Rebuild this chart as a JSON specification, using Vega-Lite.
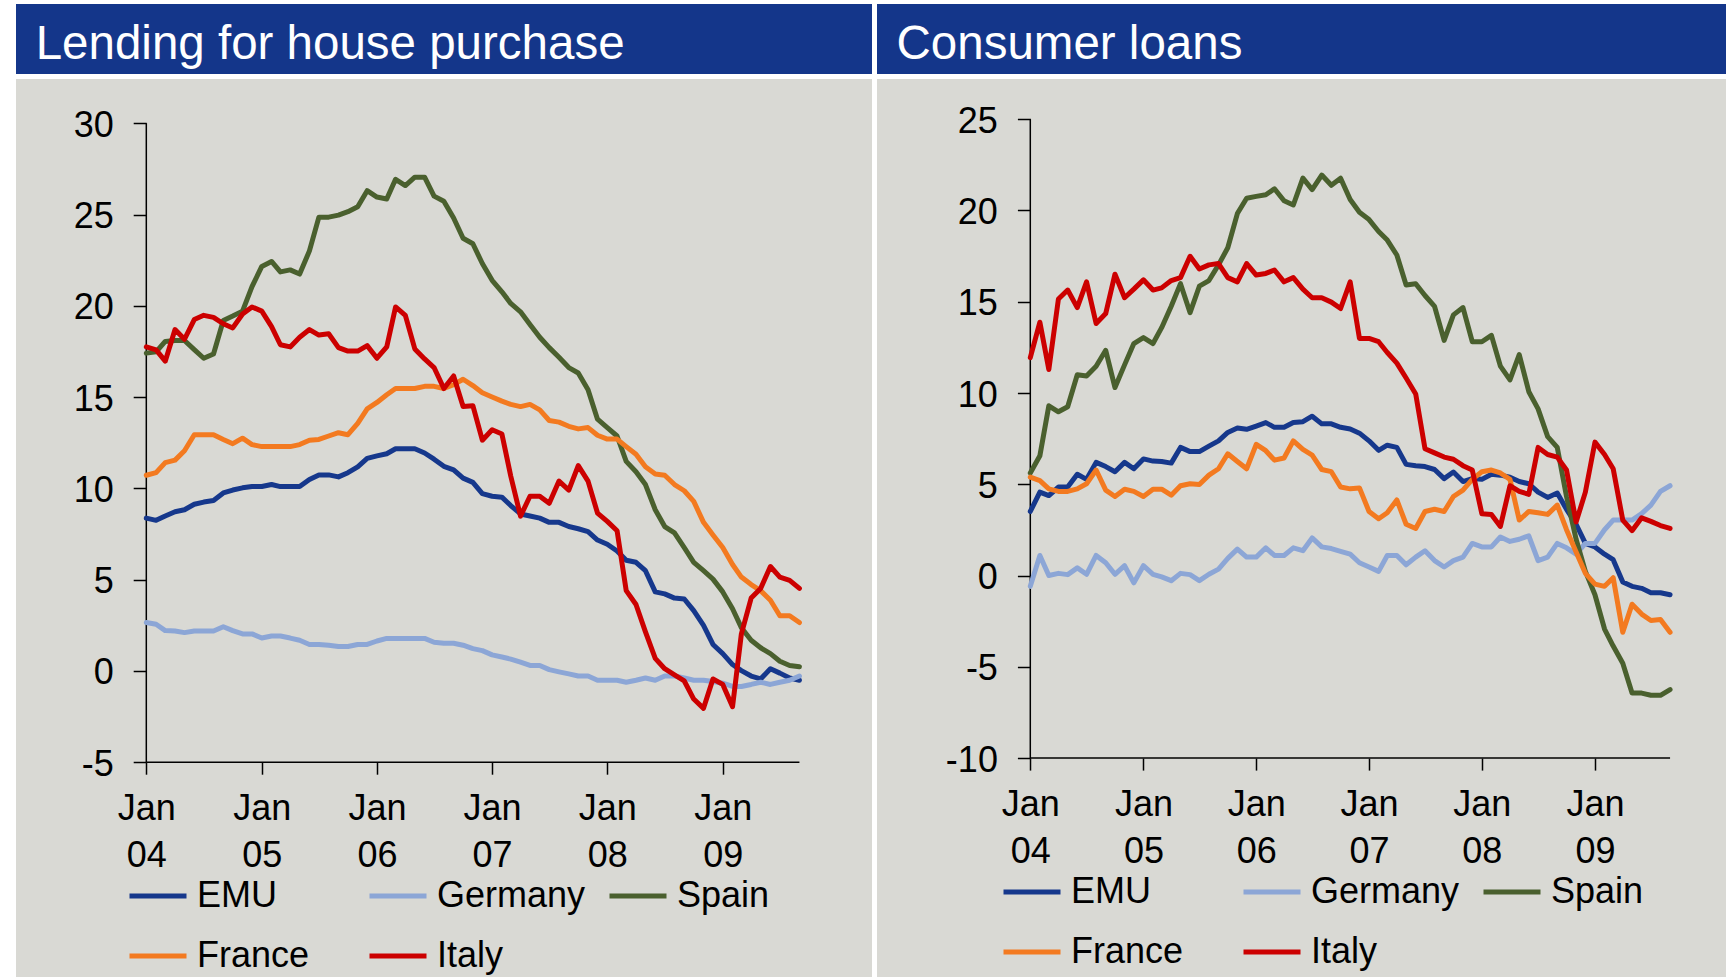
{
  "$schema": "https://vega.github.io/schema/vega-lite/v6.json",
  "background": "white",
  "padding": {"left": 16, "top": 4, "right": 0, "bottom": 0},
  "config": {"view": {"stroke": null}, "font": "Liberation Sans"},
  "datasets": {
    "house": [
      {"date": "2004-01-01", "EMU": 8.37, "Germany": 2.65, "Spain": 17.41, "France": 10.72, "Italy": 17.75},
      {"date": "2004-02-01", "EMU": 8.25, "Germany": 2.56, "Spain": 17.48, "France": 10.86, "Italy": 17.59},
      {"date": "2004-03-01", "EMU": 8.49, "Germany": 2.21, "Spain": 18.05, "France": 11.41, "Italy": 16.97},
      {"date": "2004-04-01", "EMU": 8.72, "Germany": 2.19, "Spain": 18.10, "France": 11.55, "Italy": 18.70},
      {"date": "2004-05-01", "EMU": 8.83, "Germany": 2.10, "Spain": 18.10, "France": 12.06, "Italy": 18.17},
      {"date": "2004-06-01", "EMU": 9.13, "Germany": 2.19, "Spain": 17.60, "France": 12.94, "Italy": 19.25},
      {"date": "2004-07-01", "EMU": 9.25, "Germany": 2.19, "Spain": 17.13, "France": 12.94, "Italy": 19.48},
      {"date": "2004-08-01", "EMU": 9.34, "Germany": 2.19, "Spain": 17.36, "France": 12.94, "Italy": 19.37},
      {"date": "2004-09-01", "EMU": 9.75, "Germany": 2.42, "Spain": 19.20, "France": 12.68, "Italy": 19.02},
      {"date": "2004-10-01", "EMU": 9.91, "Germany": 2.21, "Spain": 19.44, "France": 12.45, "Italy": 18.79},
      {"date": "2004-11-01", "EMU": 10.03, "Germany": 2.03, "Spain": 19.71, "France": 12.75, "Italy": 19.55},
      {"date": "2004-12-01", "EMU": 10.10, "Germany": 2.03, "Spain": 21.05, "France": 12.40, "Italy": 19.94},
      {"date": "2005-01-01", "EMU": 10.10, "Germany": 1.80, "Spain": 22.16, "France": 12.29, "Italy": 19.71},
      {"date": "2005-02-01", "EMU": 10.21, "Germany": 1.91, "Spain": 22.43, "France": 12.29, "Italy": 18.86},
      {"date": "2005-03-01", "EMU": 10.10, "Germany": 1.91, "Spain": 21.86, "France": 12.29, "Italy": 17.87},
      {"date": "2005-04-01", "EMU": 10.10, "Germany": 1.80, "Spain": 21.97, "France": 12.29, "Italy": 17.75},
      {"date": "2005-05-01", "EMU": 10.10, "Germany": 1.68, "Spain": 21.74, "France": 12.40, "Italy": 18.28},
      {"date": "2005-06-01", "EMU": 10.49, "Germany": 1.45, "Spain": 23.01, "France": 12.64, "Italy": 18.70},
      {"date": "2005-07-01", "EMU": 10.74, "Germany": 1.45, "Spain": 24.86, "France": 12.68, "Italy": 18.40},
      {"date": "2005-08-01", "EMU": 10.74, "Germany": 1.41, "Spain": 24.86, "France": 12.87, "Italy": 18.47},
      {"date": "2005-09-01", "EMU": 10.63, "Germany": 1.34, "Spain": 24.97, "France": 13.05, "Italy": 17.71},
      {"date": "2005-10-01", "EMU": 10.86, "Germany": 1.34, "Spain": 25.16, "France": 12.94, "Italy": 17.52},
      {"date": "2005-11-01", "EMU": 11.18, "Germany": 1.45, "Spain": 25.43, "France": 13.56, "Italy": 17.52},
      {"date": "2005-12-01", "EMU": 11.64, "Germany": 1.45, "Spain": 26.31, "France": 14.36, "Italy": 17.82},
      {"date": "2006-01-01", "EMU": 11.78, "Germany": 1.64, "Spain": 25.96, "France": 14.71, "Italy": 17.13},
      {"date": "2006-02-01", "EMU": 11.90, "Germany": 1.78, "Spain": 25.85, "France": 15.13, "Italy": 17.75},
      {"date": "2006-03-01", "EMU": 12.17, "Germany": 1.78, "Spain": 26.93, "France": 15.47, "Italy": 19.94},
      {"date": "2006-04-01", "EMU": 12.17, "Germany": 1.78, "Spain": 26.59, "France": 15.47, "Italy": 19.48},
      {"date": "2006-05-01", "EMU": 12.17, "Germany": 1.78, "Spain": 27.05, "France": 15.47, "Italy": 17.64},
      {"date": "2006-06-01", "EMU": 11.94, "Germany": 1.78, "Spain": 27.05, "France": 15.59, "Italy": 17.09},
      {"date": "2006-07-01", "EMU": 11.60, "Germany": 1.57, "Spain": 26.01, "France": 15.59, "Italy": 16.62},
      {"date": "2006-08-01", "EMU": 11.21, "Germany": 1.52, "Spain": 25.73, "France": 15.47, "Italy": 15.47},
      {"date": "2006-09-01", "EMU": 11.02, "Germany": 1.52, "Spain": 24.81, "France": 15.68, "Italy": 16.16},
      {"date": "2006-10-01", "EMU": 10.56, "Germany": 1.41, "Spain": 23.70, "France": 15.98, "Italy": 14.48},
      {"date": "2006-11-01", "EMU": 10.33, "Germany": 1.22, "Spain": 23.40, "France": 15.63, "Italy": 14.53},
      {"date": "2006-12-01", "EMU": 9.71, "Germany": 1.11, "Spain": 22.32, "France": 15.24, "Italy": 12.64},
      {"date": "2007-01-01", "EMU": 9.57, "Germany": 0.88, "Spain": 21.40, "France": 15.01, "Italy": 13.21},
      {"date": "2007-02-01", "EMU": 9.52, "Germany": 0.76, "Spain": 20.77, "France": 14.78, "Italy": 12.98},
      {"date": "2007-03-01", "EMU": 9.06, "Germany": 0.65, "Spain": 20.13, "France": 14.60, "Italy": 10.68},
      {"date": "2007-04-01", "EMU": 8.60, "Germany": 0.48, "Spain": 19.67, "France": 14.48, "Italy": 8.48},
      {"date": "2007-05-01", "EMU": 8.49, "Germany": 0.30, "Spain": 18.98, "France": 14.60, "Italy": 9.57},
      {"date": "2007-06-01", "EMU": 8.37, "Germany": 0.30, "Spain": 18.28, "France": 14.30, "Italy": 9.57},
      {"date": "2007-07-01", "EMU": 8.14, "Germany": 0.07, "Spain": 17.71, "France": 13.72, "Italy": 9.18},
      {"date": "2007-08-01", "EMU": 8.14, "Germany": -0.05, "Spain": 17.18, "France": 13.63, "Italy": 10.40},
      {"date": "2007-09-01", "EMU": 7.91, "Germany": -0.16, "Spain": 16.62, "France": 13.40, "Italy": 9.91},
      {"date": "2007-10-01", "EMU": 7.79, "Germany": -0.28, "Spain": 16.32, "France": 13.26, "Italy": 11.25},
      {"date": "2007-11-01", "EMU": 7.63, "Germany": -0.28, "Spain": 15.40, "France": 13.33, "Italy": 10.40},
      {"date": "2007-12-01", "EMU": 7.17, "Germany": -0.51, "Spain": 13.79, "France": 12.91, "Italy": 8.65},
      {"date": "2008-01-01", "EMU": 6.94, "Germany": -0.51, "Spain": 13.33, "France": 12.70, "Italy": 8.19},
      {"date": "2008-02-01", "EMU": 6.57, "Germany": -0.51, "Spain": 12.87, "France": 12.70, "Italy": 7.68},
      {"date": "2008-03-01", "EMU": 6.06, "Germany": -0.62, "Spain": 11.48, "France": 12.29, "Italy": 4.40},
      {"date": "2008-04-01", "EMU": 5.95, "Germany": -0.51, "Spain": 10.91, "France": 11.87, "Italy": 3.64},
      {"date": "2008-05-01", "EMU": 5.49, "Germany": -0.39, "Spain": 10.21, "France": 11.18, "Italy": 2.14},
      {"date": "2008-06-01", "EMU": 4.33, "Germany": -0.51, "Spain": 8.83, "France": 10.79, "Italy": 0.69},
      {"date": "2008-07-01", "EMU": 4.22, "Germany": -0.28, "Spain": 7.91, "France": 10.72, "Italy": 0.12},
      {"date": "2008-08-01", "EMU": 3.99, "Germany": -0.28, "Spain": 7.56, "France": 10.21, "Italy": -0.21},
      {"date": "2008-09-01", "EMU": 3.94, "Germany": -0.39, "Spain": 6.76, "France": 9.87, "Italy": -0.55},
      {"date": "2008-10-01", "EMU": 3.30, "Germany": -0.51, "Spain": 5.95, "France": 9.29, "Italy": -1.54},
      {"date": "2008-11-01", "EMU": 2.49, "Germany": -0.51, "Spain": 5.49, "France": 8.14, "Italy": -2.05},
      {"date": "2008-12-01", "EMU": 1.45, "Germany": -0.58, "Spain": 5.03, "France": 7.45, "Italy": -0.44},
      {"date": "2009-01-01", "EMU": 0.95, "Germany": -0.67, "Spain": 4.33, "France": 6.76, "Italy": -0.74},
      {"date": "2009-02-01", "EMU": 0.35, "Germany": -0.85, "Spain": 3.41, "France": 5.83, "Italy": -1.96},
      {"date": "2009-03-01", "EMU": 0.02, "Germany": -0.85, "Spain": 2.37, "France": 5.14, "Italy": 2.03},
      {"date": "2009-04-01", "EMU": -0.28, "Germany": -0.74, "Spain": 1.68, "France": 4.73, "Italy": 3.99},
      {"date": "2009-05-01", "EMU": -0.44, "Germany": -0.62, "Spain": 1.27, "France": 4.40, "Italy": 4.52},
      {"date": "2009-06-01", "EMU": 0.12, "Germany": -0.74, "Spain": 0.95, "France": 3.87, "Italy": 5.72},
      {"date": "2009-07-01", "EMU": -0.12, "Germany": -0.62, "Spain": 0.53, "France": 3.02, "Italy": 5.14},
      {"date": "2009-08-01", "EMU": -0.39, "Germany": -0.51, "Spain": 0.30, "France": 3.02, "Italy": 4.96},
      {"date": "2009-09-01", "EMU": -0.51, "Germany": -0.28, "Spain": 0.23, "France": 2.65, "Italy": 4.52}
    ],
    "consumer": [
      {"date": "2004-01-01", "EMU": 3.51, "Germany": -0.59, "Spain": 5.62, "France": 5.39, "Italy": 11.94},
      {"date": "2004-02-01", "EMU": 4.57, "Germany": 1.10, "Spain": 6.56, "France": 5.20, "Italy": 13.88},
      {"date": "2004-03-01", "EMU": 4.38, "Germany": 0.00, "Spain": 9.30, "France": 4.75, "Italy": 11.29},
      {"date": "2004-04-01", "EMU": 4.85, "Germany": 0.12, "Spain": 8.97, "France": 4.61, "Italy": 15.15},
      {"date": "2004-05-01", "EMU": 4.85, "Germany": 0.05, "Spain": 9.25, "France": 4.61, "Italy": 15.64},
      {"date": "2004-06-01", "EMU": 5.55, "Germany": 0.42, "Spain": 11.00, "France": 4.75, "Italy": 14.68},
      {"date": "2004-07-01", "EMU": 5.27, "Germany": 0.07, "Spain": 10.93, "France": 5.03, "Italy": 16.09},
      {"date": "2004-08-01", "EMU": 6.20, "Germany": 1.10, "Spain": 11.47, "France": 5.78, "Italy": 13.81},
      {"date": "2004-09-01", "EMU": 5.97, "Germany": 0.70, "Spain": 12.34, "France": 4.68, "Italy": 14.35},
      {"date": "2004-10-01", "EMU": 5.69, "Germany": 0.07, "Spain": 10.30, "France": 4.33, "Italy": 16.51},
      {"date": "2004-11-01", "EMU": 6.20, "Germany": 0.54, "Spain": 11.54, "France": 4.73, "Italy": 15.22},
      {"date": "2004-12-01", "EMU": 5.85, "Germany": -0.40, "Spain": 12.71, "France": 4.61, "Italy": 15.69},
      {"date": "2005-01-01", "EMU": 6.39, "Germany": 0.54, "Spain": 13.04, "France": 4.33, "Italy": 16.20},
      {"date": "2005-02-01", "EMU": 6.27, "Germany": 0.07, "Spain": 12.71, "France": 4.73, "Italy": 15.64},
      {"date": "2005-03-01", "EMU": 6.25, "Germany": -0.07, "Spain": 13.58, "France": 4.73, "Italy": 15.76},
      {"date": "2005-04-01", "EMU": 6.16, "Germany": -0.28, "Spain": 14.75, "France": 4.40, "Italy": 16.16},
      {"date": "2005-05-01", "EMU": 7.02, "Germany": 0.12, "Spain": 15.99, "France": 4.92, "Italy": 16.32},
      {"date": "2005-06-01", "EMU": 6.79, "Germany": 0.05, "Spain": 14.40, "France": 5.03, "Italy": 17.49},
      {"date": "2005-07-01", "EMU": 6.79, "Germany": -0.28, "Spain": 15.85, "France": 4.99, "Italy": 16.79},
      {"date": "2005-08-01", "EMU": 7.09, "Germany": 0.07, "Spain": 16.16, "France": 5.50, "Italy": 17.02},
      {"date": "2005-09-01", "EMU": 7.38, "Germany": 0.35, "Spain": 17.02, "France": 5.85, "Italy": 17.09},
      {"date": "2005-10-01", "EMU": 7.84, "Germany": 0.94, "Spain": 17.96, "France": 6.67, "Italy": 16.32},
      {"date": "2005-11-01", "EMU": 8.08, "Germany": 1.45, "Spain": 19.83, "France": 6.25, "Italy": 16.09},
      {"date": "2005-12-01", "EMU": 8.01, "Germany": 1.01, "Spain": 20.67, "France": 5.85, "Italy": 17.09},
      {"date": "2006-01-01", "EMU": 8.19, "Germany": 1.01, "Spain": 20.77, "France": 7.19, "Italy": 16.46},
      {"date": "2006-02-01", "EMU": 8.38, "Germany": 1.52, "Spain": 20.86, "France": 6.84, "Italy": 16.55},
      {"date": "2006-03-01", "EMU": 8.12, "Germany": 1.10, "Spain": 21.19, "France": 6.32, "Italy": 16.74},
      {"date": "2006-04-01", "EMU": 8.12, "Germany": 1.10, "Spain": 20.53, "France": 6.44, "Italy": 16.09},
      {"date": "2006-05-01", "EMU": 8.38, "Germany": 1.52, "Spain": 20.30, "France": 7.38, "Italy": 16.32},
      {"date": "2006-06-01", "EMU": 8.43, "Germany": 1.36, "Spain": 21.77, "France": 6.91, "Italy": 15.69},
      {"date": "2006-07-01", "EMU": 8.73, "Germany": 2.06, "Spain": 21.14, "France": 6.60, "Italy": 15.22},
      {"date": "2006-08-01", "EMU": 8.31, "Germany": 1.57, "Spain": 21.94, "France": 5.81, "Italy": 15.22},
      {"date": "2006-09-01", "EMU": 8.31, "Germany": 1.48, "Spain": 21.38, "France": 5.69, "Italy": 14.98},
      {"date": "2006-10-01", "EMU": 8.12, "Germany": 1.33, "Spain": 21.77, "France": 4.85, "Italy": 14.63},
      {"date": "2006-11-01", "EMU": 8.03, "Germany": 1.17, "Spain": 20.60, "France": 4.75, "Italy": 16.09},
      {"date": "2006-12-01", "EMU": 7.80, "Germany": 0.70, "Spain": 19.90, "France": 4.80, "Italy": 12.99},
      {"date": "2007-01-01", "EMU": 7.38, "Germany": 0.47, "Spain": 19.50, "France": 3.51, "Italy": 12.99},
      {"date": "2007-02-01", "EMU": 6.86, "Germany": 0.23, "Spain": 18.85, "France": 3.11, "Italy": 12.81},
      {"date": "2007-03-01", "EMU": 7.14, "Germany": 1.10, "Spain": 18.38, "France": 3.44, "Italy": 12.22},
      {"date": "2007-04-01", "EMU": 7.02, "Germany": 1.10, "Spain": 17.56, "France": 4.14, "Italy": 11.64},
      {"date": "2007-05-01", "EMU": 6.09, "Germany": 0.59, "Spain": 15.92, "France": 2.81, "Italy": 10.82},
      {"date": "2007-06-01", "EMU": 6.02, "Germany": 1.01, "Spain": 15.99, "France": 2.58, "Italy": 9.95},
      {"date": "2007-07-01", "EMU": 5.97, "Germany": 1.36, "Spain": 15.34, "France": 3.51, "Italy": 6.95},
      {"date": "2007-08-01", "EMU": 5.81, "Germany": 0.82, "Spain": 14.75, "France": 3.63, "Italy": 6.72},
      {"date": "2007-09-01", "EMU": 5.31, "Germany": 0.47, "Spain": 12.88, "France": 3.51, "Italy": 6.49},
      {"date": "2007-10-01", "EMU": 5.67, "Germany": 0.82, "Spain": 14.28, "France": 4.33, "Italy": 6.37},
      {"date": "2007-11-01", "EMU": 5.15, "Germany": 1.01, "Spain": 14.68, "France": 4.68, "Italy": 6.02},
      {"date": "2007-12-01", "EMU": 5.31, "Germany": 1.76, "Spain": 12.81, "France": 5.27, "Italy": 5.78},
      {"date": "2008-01-01", "EMU": 5.27, "Germany": 1.57, "Spain": 12.81, "France": 5.69, "Italy": 3.39},
      {"date": "2008-02-01", "EMU": 5.55, "Germany": 1.57, "Spain": 13.16, "France": 5.78, "Italy": 3.35},
      {"date": "2008-03-01", "EMU": 5.50, "Germany": 2.11, "Spain": 11.47, "France": 5.62, "Italy": 2.69},
      {"date": "2008-04-01", "EMU": 5.39, "Germany": 1.87, "Spain": 10.72, "France": 5.27, "Italy": 4.92},
      {"date": "2008-05-01", "EMU": 5.15, "Germany": 1.99, "Spain": 12.10, "France": 3.04, "Italy": 4.61},
      {"date": "2008-06-01", "EMU": 5.03, "Germany": 2.18, "Spain": 10.07, "France": 3.51, "Italy": 4.45},
      {"date": "2008-07-01", "EMU": 4.57, "Germany": 0.82, "Spain": 9.13, "France": 3.44, "Italy": 7.02},
      {"date": "2008-08-01", "EMU": 4.28, "Germany": 1.01, "Spain": 7.61, "France": 3.35, "Italy": 6.63},
      {"date": "2008-09-01", "EMU": 4.52, "Germany": 1.76, "Spain": 7.02, "France": 3.86, "Italy": 6.49},
      {"date": "2008-10-01", "EMU": 3.63, "Germany": 1.52, "Spain": 4.33, "France": 2.51, "Italy": 5.78},
      {"date": "2008-11-01", "EMU": 2.81, "Germany": 1.17, "Spain": 1.99, "France": 1.29, "Italy": 2.93},
      {"date": "2008-12-01", "EMU": 1.76, "Germany": 1.76, "Spain": 0.23, "France": 0.12, "Italy": 4.57},
      {"date": "2009-01-01", "EMU": 1.57, "Germany": 1.76, "Spain": -1.05, "France": -0.47, "Italy": 7.31},
      {"date": "2009-02-01", "EMU": 1.17, "Germany": 2.51, "Spain": -2.93, "France": -0.59, "Italy": 6.63},
      {"date": "2009-03-01", "EMU": 0.87, "Germany": 3.04, "Spain": -3.86, "France": -0.12, "Italy": 5.85},
      {"date": "2009-04-01", "EMU": -0.35, "Germany": 3.04, "Spain": -4.80, "France": -3.11, "Italy": 3.04},
      {"date": "2009-05-01", "EMU": -0.59, "Germany": 3.04, "Spain": -6.44, "France": -1.57, "Italy": 2.46},
      {"date": "2009-06-01", "EMU": -0.70, "Germany": 3.39, "Spain": -6.44, "France": -2.11, "Italy": 3.16},
      {"date": "2009-07-01", "EMU": -0.94, "Germany": 3.86, "Spain": -6.56, "France": -2.46, "Italy": 2.97},
      {"date": "2009-08-01", "EMU": -0.94, "Germany": 4.61, "Spain": -6.56, "France": -2.41, "Italy": 2.74},
      {"date": "2009-09-01", "EMU": -1.05, "Germany": 4.92, "Spain": -6.25, "France": -3.11, "Italy": 2.58}
    ]
  },
  "spacing": 5,
  "resolve": {"scale": {"x": "independent", "y": "independent", "color": "independent"}, "legend": {"color": "independent"}},
  "hconcat": [
    {
      "spacing": 5,
      "bounds": "flush",
      "resolve": {"scale": {"x": "independent", "y": "independent", "color": "independent"}, "legend": {"color": "independent"}},
      "vconcat": [
        {
          "width": 856,
          "height": 70,
          "view": {"fill": "#14368A", "stroke": null},
          "data": {"values": [{"title": "Lending for house purchase"}]},
          "mark": {"type": "text", "align": "left", "baseline": "alphabetic", "font": "Liberation Sans", "fontSize": 47.5, "color": "white"},
          "encoding": {
            "text": {"field": "title", "type": "nominal"},
            "x": {"datum": 0.023, "type": "quantitative", "scale": {"domain": [0, 1], "nice": false, "zero": false}, "axis": null},
            "y": {"datum": 0.22, "type": "quantitative", "scale": {"domain": [0, 1], "nice": false, "zero": false}, "axis": null}
          }
        },
        {
          "width": 856,
          "height": 898,
          "view": {"fill": "#D9D9D4", "stroke": null},
          "layer": [
            {
              "data": {"values": [{"a": 1}]},
              "mark": {"type": "rule", "color": "black", "strokeWidth": 1.5},
              "encoding": {
                "x": {"datum": {"year": 2004, "month": 1, "date": 1, "utc": true}, "type": "temporal"},
                "y": {"datum": -5, "type": "quantitative"},
                "y2": {"datum": 30}
              }
            },
            {
              "data": {"values": [{"a": 1}]},
              "mark": {"type": "rule", "color": "black", "strokeWidth": 1.5},
              "encoding": {
                "x": {"datum": {"year": 2004, "month": 1, "date": 1, "utc": true}, "type": "temporal"},
                "x2": {"datum": {"year": 2009, "month": 9, "date": 1, "utc": true}},
                "y": {"datum": -5, "type": "quantitative"}
              }
            },
            {
              "data": {"name": "house"},
              "transform": [{"fold": ["EMU", "Germany", "Spain", "France", "Italy"], "as": ["series", "value"]}],
              "mark": {"type": "line", "strokeWidth": 5, "strokeJoin": "round", "strokeCap": "round"},
              "encoding": {
                "x": {
                  "field": "date", "type": "temporal",
                  "scale": {"type": "utc", "domain": [{"year": 2002, "month": 11, "date": 14, "utc": true}, {"year": 2010, "month": 4, "date": 19, "utc": true}], "nice": false},
                  "axis": {
                    "title": null, "orient": "bottom", "offset": -214.8, "domain": false, "grid": false,
                    "values": [{"year": 2004, "month": 1, "date": 1, "utc": true}, {"year": 2005, "month": 1, "date": 1, "utc": true}, {"year": 2006, "month": 1, "date": 1, "utc": true}, {"year": 2007, "month": 1, "date": 1, "utc": true}, {"year": 2008, "month": 1, "date": 1, "utc": true}, {"year": 2009, "month": 1, "date": 1, "utc": true}],
                    "tickSize": 12, "tickColor": "black", "tickWidth": 1.5,
                    "labelExpr": "['Jan', utcFormat(datum.value, '%y')]",
                    "labelFont": "Liberation Sans", "labelFontSize": 36, "labelColor": "black",
                    "labelPadding": 17, "labelLineHeight": 47, "labelAngle": 0, "labelOverlap": false, "labelFlush": false
                  }
                },
                "y": {
                  "field": "value", "type": "quantitative",
                  "scale": {"domain": [-16.767, 32.427], "nice": false, "zero": false},
                  "axis": {
                    "title": null, "orient": "left", "offset": -130.2, "domain": false, "grid": false,
                    "values": [-5, 0, 5, 10, 15, 20, 25, 30],
                    "labelExpr": "'' + datum.value",
                    "tickSize": 13, "tickColor": "black", "tickWidth": 1.5,
                    "labelFont": "Liberation Sans", "labelFontSize": 36, "labelColor": "black",
                    "labelPadding": 20, "labelOffset": 2, "labelFlush": false
                  }
                },
                "color": {
                  "field": "series", "type": "nominal",
                  "scale": {"domain": ["EMU", "France", "Germany", "Italy", "Spain"], "range": ["#16388C", "#F37A20", "#8CA6D6", "#CC0000", "#4A602E"]},
                  "legend": {
                    "title": null, "orient": "none", "legendX": 111, "legendY": 786, "columns": 3, "gridAlign": "all",
                    "columnPadding": 13, "rowPadding": 11, "padding": 0,
                    "symbolType": "stroke", "symbolSize": 3249, "symbolStrokeWidth": 5,
                    "labelFont": "Liberation Sans", "labelFontSize": 36, "labelColor": "black", "labelOffset": 8, "labelLimit": 0
                  }
                }
              }
            }
          ]
        }
      ]
    },
    {
      "spacing": 5,
      "bounds": "flush",
      "resolve": {"scale": {"x": "independent", "y": "independent", "color": "independent"}, "legend": {"color": "independent"}},
      "vconcat": [
        {
          "width": 849,
          "height": 70,
          "view": {"fill": "#14368A", "stroke": null},
          "data": {"values": [{"title": "Consumer loans"}]},
          "mark": {"type": "text", "align": "left", "baseline": "alphabetic", "font": "Liberation Sans", "fontSize": 47.5, "color": "white"},
          "encoding": {
            "text": {"field": "title", "type": "nominal"},
            "x": {"datum": 0.023, "type": "quantitative", "scale": {"domain": [0, 1], "nice": false, "zero": false}, "axis": null},
            "y": {"datum": 0.22, "type": "quantitative", "scale": {"domain": [0, 1], "nice": false, "zero": false}, "axis": null}
          }
        },
        {
          "width": 849,
          "height": 898,
          "view": {"fill": "#D9D9D4", "stroke": null},
          "layer": [
            {
              "data": {"values": [{"a": 1}]},
              "mark": {"type": "rule", "color": "black", "strokeWidth": 1.5},
              "encoding": {
                "x": {"datum": {"year": 2004, "month": 1, "date": 1, "utc": true}, "type": "temporal"},
                "y": {"datum": -10, "type": "quantitative"},
                "y2": {"datum": 25}
              }
            },
            {
              "data": {"values": [{"a": 1}]},
              "mark": {"type": "rule", "color": "black", "strokeWidth": 1.5},
              "encoding": {
                "x": {"datum": {"year": 2004, "month": 1, "date": 1, "utc": true}, "type": "temporal"},
                "x2": {"datum": {"year": 2009, "month": 9, "date": 1, "utc": true}},
                "y": {"datum": -10, "type": "quantitative"}
              }
            },
            {
              "data": {"name": "consumer"},
              "transform": [{"fold": ["EMU", "Germany", "Spain", "France", "Italy"], "as": ["series", "value"]}],
              "mark": {"type": "line", "strokeWidth": 5, "strokeJoin": "round", "strokeCap": "round"},
              "encoding": {
                "x": {
                  "field": "date", "type": "temporal",
                  "scale": {"type": "utc", "domain": [{"year": 2002, "month": 8, "date": 23, "utc": true}, {"year": 2010, "month": 3, "date": 1, "utc": true}], "nice": false},
                  "axis": {
                    "title": null, "orient": "bottom", "offset": -218.9, "domain": false, "grid": false,
                    "values": [{"year": 2004, "month": 1, "date": 1, "utc": true}, {"year": 2005, "month": 1, "date": 1, "utc": true}, {"year": 2006, "month": 1, "date": 1, "utc": true}, {"year": 2007, "month": 1, "date": 1, "utc": true}, {"year": 2008, "month": 1, "date": 1, "utc": true}, {"year": 2009, "month": 1, "date": 1, "utc": true}],
                    "tickSize": 12, "tickColor": "black", "tickWidth": 1.5,
                    "labelExpr": "['Jan', utcFormat(datum.value, '%y')]",
                    "labelFont": "Liberation Sans", "labelFontSize": 36, "labelColor": "black",
                    "labelPadding": 17, "labelLineHeight": 47, "labelAngle": 0, "labelOverlap": false, "labelFlush": false
                  }
                },
                "y": {
                  "field": "value", "type": "quantitative",
                  "scale": {"domain": [-21.992, 27.202], "nice": false, "zero": false},
                  "axis": {
                    "title": null, "orient": "left", "offset": -153.4, "domain": false, "grid": false,
                    "values": [-10, -5, 0, 5, 10, 15, 20, 25],
                    "labelExpr": "'' + datum.value",
                    "tickSize": 13, "tickColor": "black", "tickWidth": 1.5,
                    "labelFont": "Liberation Sans", "labelFontSize": 36, "labelColor": "black",
                    "labelPadding": 20, "labelOffset": 2, "labelFlush": false
                  }
                },
                "color": {
                  "field": "series", "type": "nominal",
                  "scale": {"domain": ["EMU", "France", "Germany", "Italy", "Spain"], "range": ["#16388C", "#F37A20", "#8CA6D6", "#CC0000", "#4A602E"]},
                  "legend": {
                    "title": null, "orient": "none", "legendX": 124, "legendY": 782, "columns": 3, "gridAlign": "all",
                    "columnPadding": 13, "rowPadding": 11, "padding": 0,
                    "symbolType": "stroke", "symbolSize": 3249, "symbolStrokeWidth": 5,
                    "labelFont": "Liberation Sans", "labelFontSize": 36, "labelColor": "black", "labelOffset": 8, "labelLimit": 0
                  }
                }
              }
            }
          ]
        }
      ]
    }
  ]
}
